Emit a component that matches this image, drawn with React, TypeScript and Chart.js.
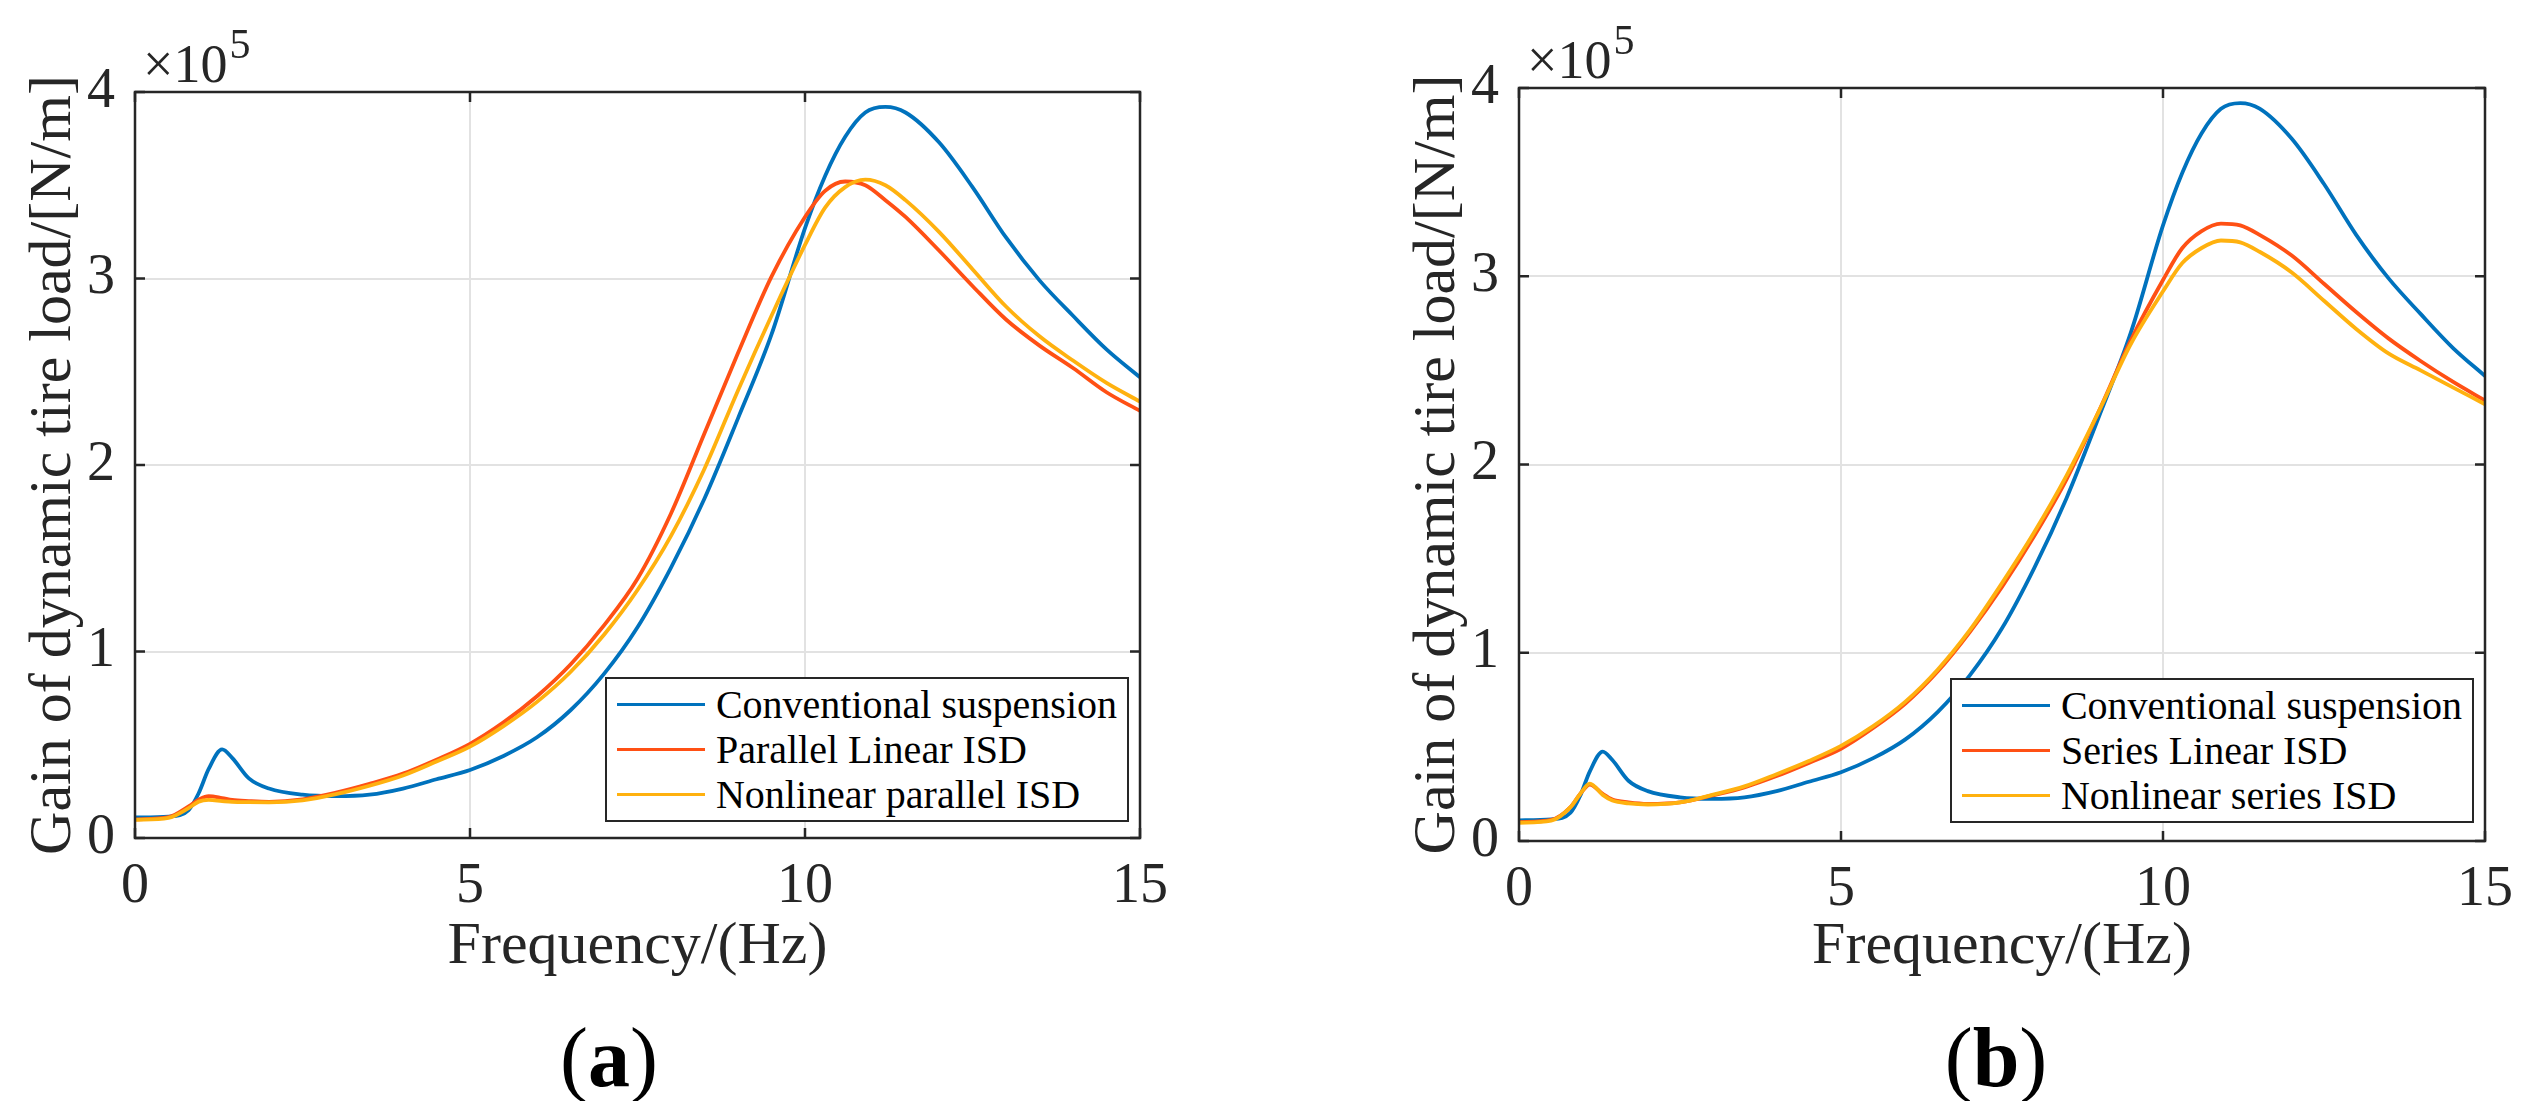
import { useEffect, useRef } from 'react';
import { Chart, registerables } from 'chart.js';

Chart.register(...registerables);

const FONT = 'Liberation Serif';
const CSS_FONT = '"Liberation Serif", "Times New Roman", serif';
Chart.defaults.font.family = FONT;
const INK = '#262626';
const COLORS = ['#0072BD', '#FF5014', '#FFB10F'];

// frequency (Hz)
const FREQ = [0, 0.5, 0.8, 0.95, 1.1, 1.3, 1.45, 1.7, 2, 2.5, 3, 3.5, 4, 4.5, 5, 5.5, 6, 6.5, 7, 7.5, 8, 8.5, 9, 9.5, 10, 10.3, 10.6, 10.9, 11.2, 11.5, 12, 12.5, 13, 13.5, 14, 14.5, 15];

// gain, x 10^5 N/m
const CONV = [0.11, 0.115, 0.15, 0.24, 0.37, 0.475, 0.43, 0.32, 0.265, 0.232, 0.224, 0.232, 0.265, 0.315, 0.365, 0.44, 0.54, 0.685, 0.88, 1.13, 1.45, 1.82, 2.25, 2.7, 3.27, 3.55, 3.76, 3.89, 3.92, 3.89, 3.73, 3.49, 3.22, 2.99, 2.8, 2.62, 2.47];
const PAR_LIN = [0.1, 0.112, 0.17, 0.205, 0.224, 0.214, 0.204, 0.198, 0.194, 0.207, 0.243, 0.29, 0.345, 0.42, 0.505, 0.62, 0.76, 0.93, 1.14, 1.39, 1.74, 2.17, 2.6, 3.01, 3.33, 3.47, 3.52, 3.5, 3.42, 3.33, 3.15, 2.96, 2.78, 2.64, 2.52, 2.39, 2.29];
const PAR_NL = [0.097, 0.108, 0.16, 0.195, 0.204, 0.198, 0.194, 0.192, 0.191, 0.202, 0.235, 0.28, 0.335, 0.41, 0.49, 0.6, 0.73, 0.89, 1.09, 1.33, 1.62, 1.98, 2.4, 2.8, 3.18, 3.38, 3.49, 3.53, 3.5, 3.42, 3.25, 3.05, 2.85, 2.69, 2.56, 2.44, 2.34];
const SER_LIN = [0.1, 0.112, 0.18, 0.25, 0.3, 0.25, 0.22, 0.205, 0.197, 0.205, 0.242, 0.285, 0.345, 0.415, 0.49, 0.6, 0.73, 0.9, 1.11, 1.35, 1.62, 1.92, 2.28, 2.66, 2.98, 3.15, 3.24, 3.28, 3.27, 3.22, 3.11, 2.96, 2.81, 2.67, 2.55, 2.44, 2.34];
const SER_NL = [0.097, 0.108, 0.18, 0.25, 0.305, 0.245, 0.215, 0.2, 0.194, 0.205, 0.245, 0.29, 0.355, 0.425, 0.505, 0.61, 0.74, 0.91, 1.12, 1.37, 1.64, 1.94, 2.28, 2.64, 2.92, 3.07, 3.15, 3.19, 3.18, 3.13, 3.02, 2.87, 2.72, 2.59, 2.5, 2.41, 2.32];

const LABELS_A = ['Conventional suspension', 'Parallel Linear ISD', 'Nonlinear parallel ISD'];
const LABELS_B = ['Conventional suspension', 'Series Linear ISD', 'Nonlinear series ISD'];

const X_TITLE = 'Frequency/(Hz)';
const Y_TITLE = 'Gain of dynamic tire load/[N/m]';

const boxPlugin = {
  id: 'matlabBox',
  afterDatasetsDraw(chart: any) {
    const { ctx, chartArea: a, scales } = chart;
    ctx.save();
    ctx.strokeStyle = INK;
    ctx.lineWidth = 2.5;
    ctx.strokeRect(a.left, a.top, a.right - a.left, a.bottom - a.top);
    const tl = 10;
    ctx.beginPath();
    scales.x.ticks.forEach((t: any) => {
      const p = scales.x.getPixelForValue(t.value);
      ctx.moveTo(p, a.bottom); ctx.lineTo(p, a.bottom - tl);
      ctx.moveTo(p, a.top); ctx.lineTo(p, a.top + tl);
    });
    scales.y.ticks.forEach((t: any) => {
      const p = scales.y.getPixelForValue(t.value);
      ctx.moveTo(a.left, p); ctx.lineTo(a.left + tl, p);
      ctx.moveTo(a.right, p); ctx.lineTo(a.right - tl, p);
    });
    ctx.stroke();
    // axis exponent
    ctx.fillStyle = INK;
    ctx.textAlign = 'left';
    ctx.textBaseline = 'alphabetic';
    ctx.font = `54px ${FONT}`;
    ctx.fillText('×10', a.left + 8, a.top - 10);
    const w = ctx.measureText('×10').width;
    ctx.font = `42px ${FONT}`;
    ctx.fillText('5', a.left + 10 + w, a.top - 34);
    ctx.restore();
  },
};

interface PanelProps {
  series: number[][];
  labels: string[];
  left: number;
  width: number;
  padTop: number;
  xAxisH: number;
  padRight: number;
  legendRight: number;
  legendBottom: number;
}

function Panel({ series, labels, left, width, padTop, xAxisH, padRight, legendRight, legendBottom }: PanelProps) {
  const ref = useRef<HTMLCanvasElement>(null);
  const ci = useRef<Chart | null>(null);

  useEffect(() => {
    let alive = true;
    const tickFont = { family: FONT, size: 56 };
    const titleFont = { family: FONT, size: 60 };
    const grid = { color: '#e2e2e2', lineWidth: 2, drawTicks: false };

    const build = () => {
      if (!alive || !ref.current) return;
      ci.current?.destroy();
      ci.current = new Chart(ref.current, {
        type: 'line',
        data: {
          datasets: series.map((vals, i) => ({
            label: labels[i],
            data: FREQ.map((f, k) => ({ x: f, y: vals[k] })),
            borderColor: COLORS[i],
            borderWidth: 3.8,
            pointRadius: 0,
            cubicInterpolationMode: 'monotone' as const,
            order: series.length - i,
          })),
        },
        options: {
          animation: false,
          responsive: true,
          maintainAspectRatio: false,
          layout: { padding: { top: padTop, right: padRight, left: 0, bottom: 0 } },
          plugins: { legend: { display: false }, tooltip: { enabled: false } },
          scales: {
            x: {
              type: 'linear', min: 0, max: 15,
              ticks: { stepSize: 5, font: tickFont, color: INK, padding: 16, maxRotation: 0 },
              grid, border: { display: false },
              title: { display: true, text: X_TITLE, font: titleFont, color: INK, padding: { top: 0, bottom: 17 } },
              afterFit: (s: any) => { s.height = xAxisH; },
            },
            y: {
              type: 'linear', min: 0, max: 4,
              ticks: { stepSize: 1, font: tickFont, color: INK, padding: 20 },
              grid, border: { display: false },
              title: { display: true, text: Y_TITLE, font: titleFont, color: INK, padding: { top: 18, bottom: 0 } },
              afterFit: (s: any) => { s.width = 135; },
            },
          },
        },
        plugins: [boxPlugin],
      });
    };

    build();
    // rebuild once the serif face is ready for canvas text
    const fonts = (document as any).fonts;
    if (fonts && fonts.load) {
      fonts.load(`56px "Liberation Serif"`, '0123456789GainFrequency×').then(build, () => {});
    }
    const timer = setTimeout(build, 250);
    return () => { alive = false; clearTimeout(timer); ci.current?.destroy(); ci.current = null; };
  }, [series, labels, padTop, xAxisH, padRight]);

  return (
    <>
      <div style={{ position: 'absolute', left, top: 0, width, height: 1000 }}>
        <canvas ref={ref} />
      </div>
      <div style={{ position: 'absolute', right: legendRight, bottom: legendBottom, border: `2px solid ${INK}`, background: '#fff', padding: '3px 10px', fontFamily: CSS_FONT, fontSize: 40, color: '#000' }}>
        {labels.map((l, i) => (
          <div key={l} style={{ display: 'flex', alignItems: 'center', height: 45 }}>
            <div style={{ width: 88, height: 3.8, background: COLORS[i], marginRight: 11 }} />
            <span style={{ lineHeight: '45px', whiteSpace: 'nowrap' }}>{l}</span>
          </div>
        ))}
      </div>
    </>
  );
}

function Caption({ letter, center }: { letter: string; center: number }) {
  return (
    <div style={{ position: 'absolute', left: center - 100, width: 200, top: 1016, textAlign: 'center', fontFamily: CSS_FONT, fontSize: 84, lineHeight: '84px', color: '#000' }}>
      (<b>{letter}</b>)
    </div>
  );
}

export default function App() {
  return (
    <div style={{ position: 'absolute', left: 0, top: 0, width: 2524, height: 1101, background: '#fff', overflow: 'hidden', fontFamily: CSS_FONT }}>
      <Panel series={[CONV, PAR_LIN, PAR_NL]} labels={LABELS_A} left={0} width={1200} padTop={92} xAxisH={162} padRight={60} legendRight={2524 - 1129} legendBottom={1101 - 822} />
      <Panel series={[CONV, SER_LIN, SER_NL]} labels={LABELS_B} left={1384} width={1160} padTop={88} xAxisH={159} padRight={59} legendRight={50} legendBottom={1101 - 823} />
      <Caption letter="a" center={609} />
      <Caption letter="b" center={1996} />
    </div>
  );
}
